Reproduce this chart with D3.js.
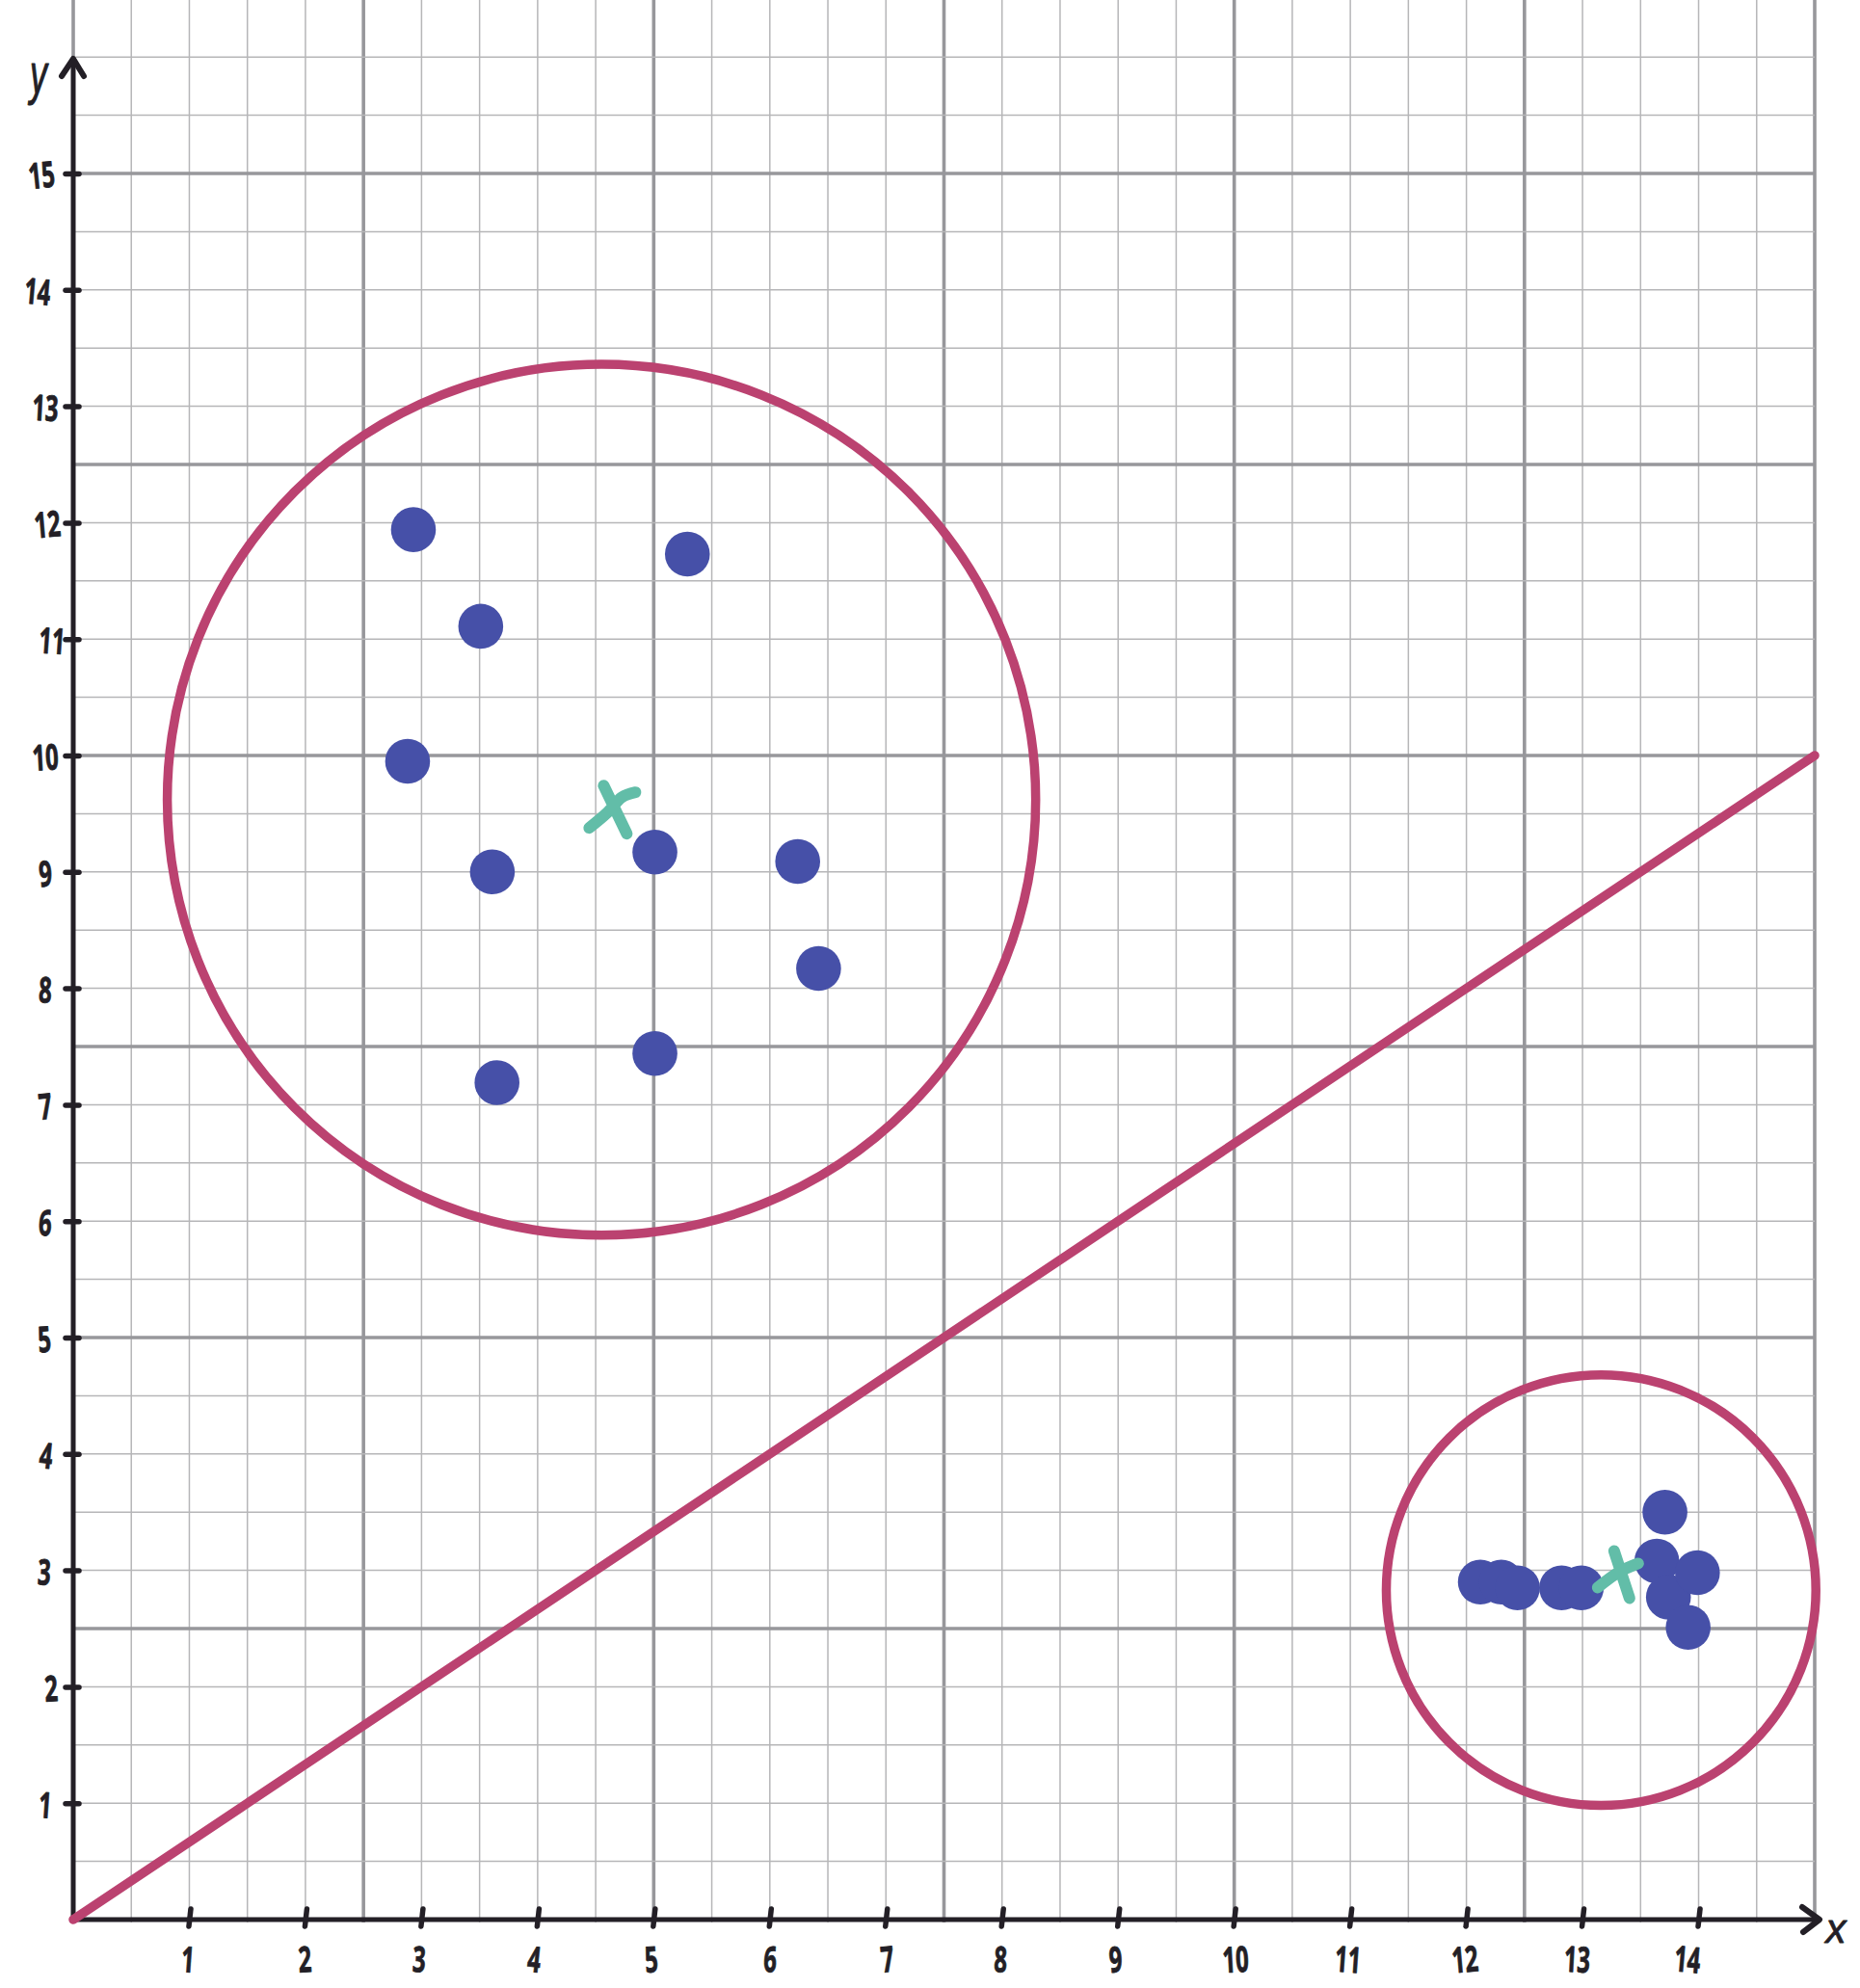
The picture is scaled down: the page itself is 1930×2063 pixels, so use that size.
<!DOCTYPE html>
<head>
  <meta charset="utf-8">
  <title>Clusters</title>
  <script src="https://d3js.org/d3.v7.min.js"></script>
  <style>
    body { margin: 0; background: #fff; }
    svg { display: block; }
    .minor { stroke: #b6b6b8; stroke-width: 1.5px; }
    .major { stroke: #97979b; stroke-width: 3.6px; }
    .axis path { stroke: #231f26; stroke-width: 5px; }
    .axis line { stroke: #231f26; stroke-width: 5.5px; stroke-linecap: round; }
    .axis text, .name {
      font-family: "Open Sans", sans-serif;
      font-weight: 700;
      font-size: 33px;
      fill: #231f26;
      stroke: #231f26;
      stroke-width: 0.8px;
      stroke-linejoin: round;
    }
    .name { font-family: "Liberation Sans", sans-serif; font-style: italic; font-weight: normal; font-size: 42px; }
    .cluster, .split { fill: none; stroke: #bb4270; stroke-width: 9.5px; stroke-linecap: round; }
    .point { fill: #4650a8; }
    .centroid { fill: none; stroke: #62bda8; stroke-width: 12px; stroke-linecap: round; }
  </style>
</head>

<body>
  <script>
    var width = 1930, height = 2063;

    var xTicks = [1, 2, 3, 4, 5, 6, 7, 8, 9, 10, 11, 12, 13, 14];
    var yTicks = [1, 2, 3, 4, 5, 6, 7, 8, 9, 10, 11, 12, 13, 14, 15];

    // hand lettering does not sit exactly on its tick
    var xLabelShift = [-2, -1, -3, -4, -3, 0, 1, -2, -3, 1, -3, -2, -6, -12];
    var yLabelShift = [-29, -23, -30, -28, -30, -29, -29, -29, -29, -29, -22, -27, -29, -37, -33];
    var labelTilt = [4, -3, 3, 6, -4, 3, -6, 2, -4, -3, 4, -5, 3, 5, -6];

    var pointX = [2.93, 5.29, 3.51, 2.88, 3.61, 5.01, 6.24, 6.42, 5.01, 3.65,
                  12.12, 12.30, 12.44, 12.82, 12.99, 13.64, 13.74, 13.99, 13.91, 13.71];
    var pointY = [11.94, 11.73, 11.11, 9.95, 9.00, 9.17, 9.09, 8.17, 7.44, 7.19,
                  2.90, 2.90, 2.85, 2.85, 2.85, 3.08, 2.77, 2.98, 2.51, 3.50];

    var clusterX = [4.55, 13.16];
    var clusterY = [9.62, 2.83];
    var clusterRadius = [3.74, 1.85];

    var centroidX = [4.66, 13.33];
    var centroidY = [9.56, 2.96];

    var splitX = [0, 15];
    var splitY = [0, 10];

    var x = d3.scaleLinear().domain([0, 15]).range([76, 1883]);
    var y = d3.scaleLinear().domain([0, 15]).range([1992, 180]);

    var svg = d3.select("body").append("svg")
      .attr("width", width)
      .attr("height", height);

    // grid, every 0.5 with a heavier line every 2.5
    var steps = d3.range(0, 34).map(d => d / 2);
    var grid = svg.append("g");

    grid.selectAll(".v")
      .data(steps.filter(d => d <= 15 && d > 0))
      .enter().append("line")
        .attr("class", d => d % 2.5 === 0 ? "major" : "minor")
        .attr("x1", x)
        .attr("x2", x)
        .attr("y1", 0)
        .attr("y2", y(0) + 3);

    grid.selectAll(".h")
      .data(steps.filter(d => d > 0))
      .enter().append("line")
        .attr("class", d => d % 2.5 === 0 && d <= 15 ? "major" : "minor")
        .attr("x1", x(0))
        .attr("x2", x(15))
        .attr("y1", y)
        .attr("y2", y);

    // the top edge of the squared paper runs over the y axis too
    grid.append("line")
      .attr("class", "major")
      .attr("x1", x(0)).attr("x2", x(0))
      .attr("y1", 0).attr("y2", 62);

    // axes
    var xAxis = svg.append("g")
      .attr("class", "axis")
      .attr("transform", "translate(0," + y(0) + ")")
      .call(d3.axisBottom(x).tickValues(xTicks).tickSize(0).tickFormat(d3.format("d")));
    xAxis.select(".domain").attr("d", "M" + x(0) + ",0H" + (x(15) + 4));
    xAxis.selectAll(".tick line").attr("y1", -11).attr("y2", 7).attr("x1", 1).attr("x2", -1);
    xAxis.selectAll(".tick text")
      .attr("y", 0)
      .attr("dy", null)
      .attr("text-anchor", "middle")
      .attr("transform", (d, i) => "translate(" + xLabelShift[i] + ",41) rotate(" + labelTilt[i] + ") scale(0.72,1.12) translate(0,12)");

    var yAxis = svg.append("g")
      .attr("class", "axis")
      .attr("transform", "translate(" + x(0) + ",0)")
      .call(d3.axisLeft(y).tickValues(yTicks).tickSize(0).tickFormat(d3.format("d")));
    yAxis.select(".domain").attr("d", "M0," + y(0) + "V62");
    yAxis.selectAll(".tick line").attr("x1", -8).attr("x2", 6);
    yAxis.selectAll(".tick text")
      .attr("x", 0)
      .attr("dy", null)
      .attr("text-anchor", "middle")
      .attr("transform", (d, i) => "translate(" + yLabelShift[i] + ",1) rotate(" + labelTilt[i] + ") scale(0.72,1.12) translate(0,12)");

    var arrows = svg.append("g")
      .attr("fill", "none")
      .attr("stroke", "#231f26")
      .attr("stroke-width", 6)
      .attr("stroke-linecap", "round")
      .attr("stroke-linejoin", "round");
    arrows.append("path")
      .attr("d", "M" + (x(0) - 12) + ",79L" + x(0) + ",61L" + (x(0) + 11) + ",79");
    arrows.append("path")
      .attr("d", "M" + (x(15) - 13) + "," + (y(0) - 13) + "L" + (x(15) + 5) + "," + y(0) + "L" + (x(15) - 12) + "," + (y(0) + 13));

    svg.append("text").attr("class", "name")
      .attr("text-anchor", "middle")
      .attr("transform", "translate(40,97) scale(0.85,1.4)")
      .text("y");
    svg.append("text").attr("class", "name")
      .attr("text-anchor", "middle")
      .attr("transform", "translate(1905,2016)")
      .text("x");

    // cluster circles
    svg.selectAll(".cluster")
      .data(clusterX)
      .enter().append("ellipse")
        .attr("class", "cluster")
        .attr("cx", d => x(d))
        .attr("cy", (d, i) => y(clusterY[i]))
        .attr("rx", (d, i) => x(clusterRadius[i]) - x(0))
        .attr("ry", (d, i) => y(0) - y(clusterRadius[i]));

    // separating line
    svg.append("path")
      .attr("class", "split")
      .datum(splitX)
      .attr("d", d3.line().x(d => x(d)).y((d, i) => y(splitY[i])));

    svg.selectAll(".point")
      .data(pointX)
      .enter().append("circle")
        .attr("class", "point")
        .attr("cx", d => x(d))
        .attr("cy", (d, i) => y(pointY[i]))
        .attr("r", 23.3);

    // hand drawn crosses, two strokes each around the centroid
    var stroke = d3.line().curve(d3.curveCatmullRom);
    var crossShapes = [
      [[[-11, -22], [13, 28]], [[22, -15], [8, -10], [-7, 6], [-26, 22]]],
      [[[-7, -25], [9, 24]], [[18, -12], [-2, -3], [-24, 13]]]
    ];

    svg.selectAll(".centroid")
      .data(centroidX)
      .enter().append("path")
        .attr("class", "centroid")
        .attr("transform", (d, i) => "translate(" + x(d) + "," + y(centroidY[i]) + ")")
        .attr("d", (d, i) => crossShapes[i].map(s => stroke(s)).join(""));
  </script>
</body>
